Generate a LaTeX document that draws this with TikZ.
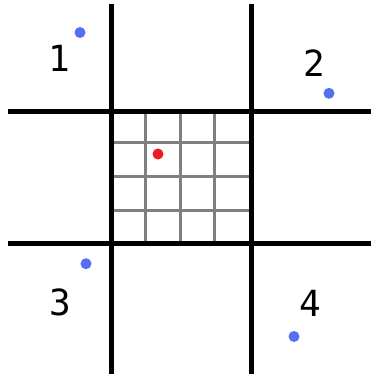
\documentclass[tikz,border=0pt]{standalone}
\usepackage{fontspec}
\newfontfamily\digitfont{DejaVu Sans Mono}
\definecolor{dotblue}{RGB}{84,112,240}
\definecolor{dotred}{RGB}{237,28,36}
\definecolor{gridgray}{RGB}{128,128,128}
\begin{document}
\begin{tikzpicture}[x=1pt,y=-1pt,
  thickline/.style={line width=5pt},
  gridline/.style={line width=3pt,draw=gridgray},
  bluedot/.style={circle,fill=dotblue,inner sep=0pt,minimum size=11pt},
  reddot/.style={circle,fill=dotred,inner sep=0pt,minimum size=11pt},
  digit/.style={font=\digitfont\fontsize{36}{36}\selectfont,inner sep=0pt}]
\useasboundingbox[fill=white] (0,0) rectangle (371,376);
% gray grid
\foreach \x in {145.5,180,214.5} \draw[gridline] (\x,111) -- (\x,243.5);
\foreach \y in {142,176.3,210.3} \draw[gridline] (111.5,\y) -- (251,\y);
% thick lines
\coordinate (v1t) at (111.5,4); \coordinate (v1b) at (111.5,374);
\coordinate (v2t) at (251,4);   \coordinate (v2b) at (251,374);
\coordinate (h1l) at (8,111);   \coordinate (h1r) at (371,111);
\coordinate (h2l) at (8,243.5); \coordinate (h2r) at (371,243.5);
\draw[thickline] (v1t) -- (v1b);
\draw[thickline] (v2t) -- (v2b);
\draw[thickline] (h1l) -- (h1r);
\draw[thickline] (h2l) -- (h2r);
% dots
\node[reddot] (r) at (158,154) {};
\node[bluedot] (b1) at (80,32.5) {};
\node[bluedot] (b2) at (329,93.3) {};
\node[bluedot] (b3) at (86,263.7) {};
\node[bluedot] (b4) at (294,336.5) {};
% labels
\node[digit] (l1) at (59,58) {1};
\node[digit] (l2) at (314.7,63) {2};
\node[digit] (l3) at (60,302.5) {3};
\node[digit] (l4) at (310,303) {4};
\end{tikzpicture}
\end{document}
